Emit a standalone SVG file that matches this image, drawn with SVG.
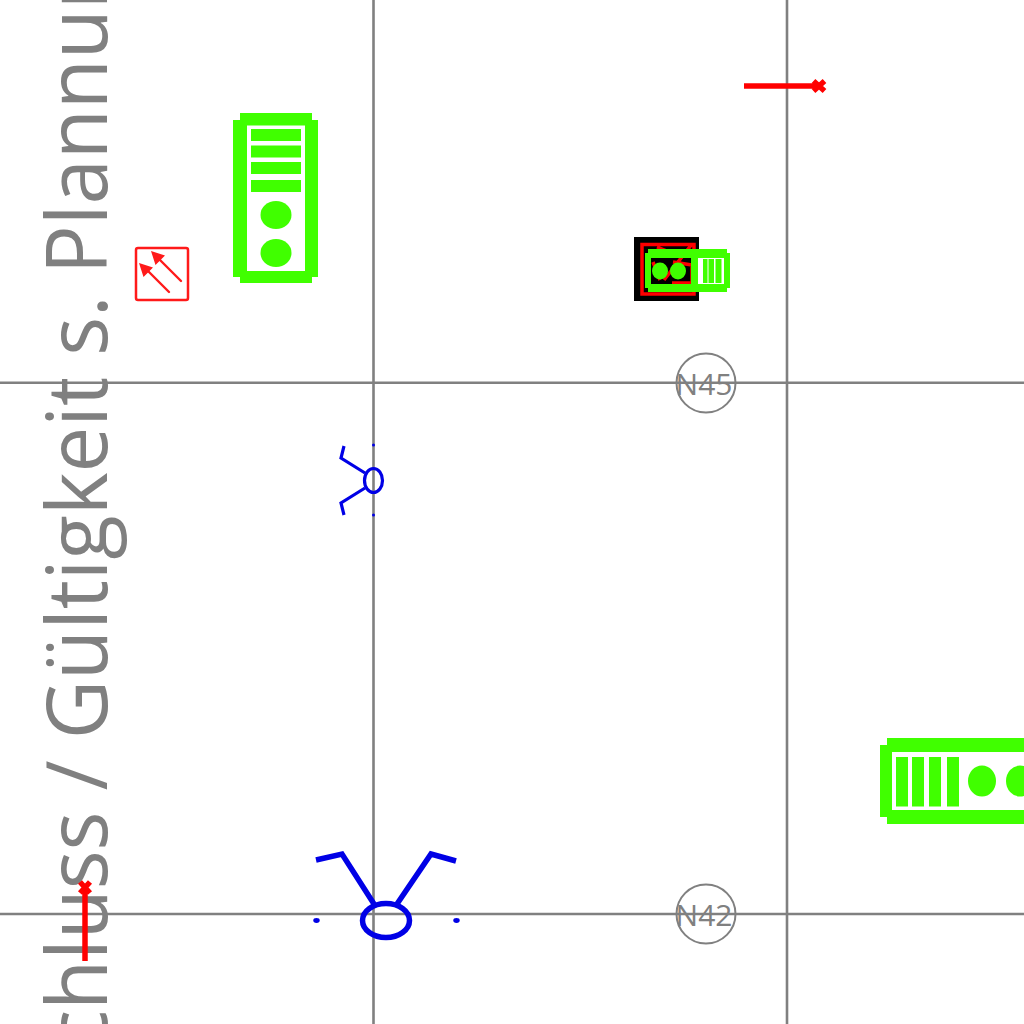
<svg xmlns="http://www.w3.org/2000/svg" width="1024" height="1024" viewBox="0 0 1024 1024">
<style>
.grid{stroke:#808080;stroke-width:2.6;fill:none}
.g{fill:#40ff00}
.r{stroke:#ff1a1a;fill:none;stroke-linecap:round;stroke-linejoin:round}
.b{stroke:#0000e6;fill:none}
.gt{font-family:"Open Sans",sans-serif;fill:#808080}
</style>
<rect width="1024" height="1024" fill="#fff"/>
<g id="connectors">
<path class="grid" d="M373.500 0V1024M787 0V1024M0 382.700H1024M0 914H1024"/>
</g>
<text class="gt" id="title" transform="translate(107,1049) rotate(-90) scale(.96,1)" font-size="85">chluss / Gültigkeit s. Plannum</text>
<g id="signal-a">
<path class="g" fill-rule="evenodd" d="M240 113H312V120H318V277H312V283H240V277H233V120H240ZM247 125.500V271H305V125.500Z"/>
<rect class="g" x="251" y="129" width="50" height="12"/>
<rect class="g" x="251" y="145.500" width="50" height="12"/>
<rect class="g" x="251" y="162" width="50" height="12"/>
<rect class="g" x="251" y="180" width="50" height="12"/>
<ellipse class="g" cx="276" cy="215" rx="15.500" ry="14"/>
<ellipse class="g" cx="276" cy="253" rx="15.500" ry="14"/>
</g>
<g id="sign-arrows">
<rect x="136" y="248" width="52" height="52" rx="2" class="r" stroke-width="2.500"/>
<path class="r" stroke-width="2.400" d="M181 281L158 258M169 292L146 269"/>
<path d="M151 251L165 255.500L155.500 265ZM139 263L153 267.500L143.500 277Z" fill="#ff1a1a"/>
</g>
<g id="signal-b">
<rect x="634" y="237" width="65" height="64" fill="#000"/>
<path stroke="#f00" stroke-width="3.500" fill="none" d="M642 244.500H694V294H642ZM657 247L672 253M692 244L664 280M653 262L660 280M673 262L692 265V283H672"/>
<rect x="698" y="258" width="26" height="26" fill="#fff"/>
<path class="g" fill-rule="evenodd" d="M648 249H727V253H730V288H727V292H648V288H645V253H648ZM651 258V284H724V258Z"/>
<ellipse class="g" cx="660" cy="271" rx="8" ry="8.500"/>
<ellipse class="g" cx="678" cy="271" rx="8" ry="8.500"/>
<rect class="g" x="691" y="258" width="7" height="26"/>
<rect class="g" x="703" y="259" width="4.500" height="24"/>
<rect class="g" x="708.500" y="259" width="5.500" height="24"/>
<rect class="g" x="715.500" y="259" width="6" height="24"/>
</g>
<g id="signal-c">
<path class="g" fill-rule="evenodd" d="M887 738H1024V824H887V817H880V745H887ZM892 752V810H1024V752Z"/>
<rect class="g" x="896" y="757" width="12" height="49.500"/>
<rect class="g" x="912" y="757" width="12" height="49.500"/>
<rect class="g" x="929" y="757" width="12" height="49.500"/>
<rect class="g" x="947" y="757" width="12" height="49.500"/>
<ellipse class="g" cx="982" cy="781" rx="14" ry="15.500"/>
<ellipse class="g" cx="1020" cy="781" rx="14" ry="15.500"/>
</g>
<g id="detector-small">
<ellipse class="b" cx="373.500" cy="480.500" rx="9" ry="12" stroke-width="3.200"/>
<path class="b" stroke-width="3.200" d="M365 473L341 458L344 446M365 488L341 503L344 515"/>
<circle cx="373.500" cy="445" r="1.500" fill="#0000e6"/>
<circle cx="373.500" cy="515" r="1.500" fill="#0000e6"/>
</g>
<g id="detector-large">
<ellipse class="b" cx="386" cy="920.500" rx="23.500" ry="17" stroke-width="5.500"/>
<path class="b" stroke-width="5.500" d="M374 904L342 854L316 860M397 904L431 854L456 861"/>
<ellipse cx="316.500" cy="920.500" rx="3.200" ry="2.400" fill="#0000e6"/>
<ellipse cx="456.500" cy="920.500" rx="3.200" ry="2.400" fill="#0000e6"/>
</g>
<g id="marker-top">
<path d="M744 86H816" stroke="#f00" stroke-width="5.500" fill="none"/>
<path d="M813.500 81L824.500 91M824.500 81L813.500 91" stroke="#f00" stroke-width="5.500" fill="none"/>
</g>
<g id="marker-bottom">
<path d="M85 961V888" stroke="#f00" stroke-width="5.500" fill="none"/>
<path d="M80 882L90 893M90 882L80 893" stroke="#f00" stroke-width="5.500" fill="none"/>
</g>
<g id="node-n45">
<circle cx="706" cy="383" r="29.500" fill="none" stroke="#808080" stroke-width="2"/>
<text class="gt" x="704" y="395" font-size="30" text-anchor="middle">N45</text>
</g>
<g id="node-n42">
<circle cx="706" cy="914" r="29.500" fill="none" stroke="#808080" stroke-width="2"/>
<text class="gt" x="704" y="926" font-size="30" text-anchor="middle">N42</text>
</g>
</svg>
